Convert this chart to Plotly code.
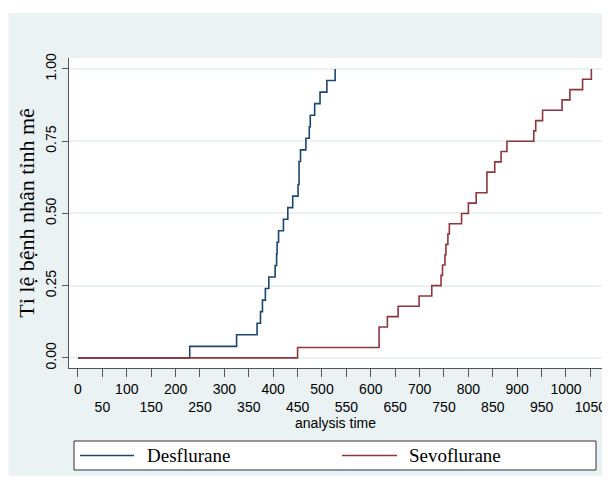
import plotly.graph_objects as go

# ---- data ----
des_time = [0, 229, 325, 367, 374, 378, 384, 391, 404, 407, 408, 411, 421, 430, 440,
            451, 453, 456, 467, 474, 476, 485, 496, 510, 527]
des_fail = [0, 0.04, 0.08, 0.12, 0.16, 0.20, 0.24, 0.28, 0.32, 0.36, 0.40, 0.44, 0.48,
            0.52, 0.56, 0.60, 0.68, 0.72, 0.76, 0.80, 0.84, 0.88, 0.92, 0.96, 1.00]

sev_time = [0, 450, 617, 634, 656, 699, 725, 744, 747, 752, 754, 758, 761, 786, 800,
            816, 838, 854, 867, 879, 934, 938, 952, 992, 1008, 1034, 1052]
sev_fail = [0, 0.0357, 0.1071, 0.1429, 0.1786, 0.2143, 0.25, 0.2857, 0.3214, 0.3571,
            0.3929, 0.4286, 0.4643, 0.5, 0.5357, 0.5714, 0.6429, 0.6786, 0.7143, 0.75,
            0.7857, 0.8214, 0.8571, 0.8929, 0.9286, 0.9643, 1.0]

x_ticks = [0, 50, 100, 150, 200, 250, 300, 350, 400, 450, 500, 550,
           600, 650, 700, 750, 800, 850, 900, 950, 1000, 1050]
y_ticks = [0, 0.25, 0.5, 0.75, 1.0]
y_tick_labels = ["0.00", "0.25", "0.50", "0.75", "1.00"]

series_names = ["Desflurane", "Sevoflurane"]
y_title = "Tỉ lệ bệnh nhân tỉnh mê"
x_title = "analysis time"

# ---- styling ----
PANEL = "#EAF2F3"
NAVY = "#1A476F"
MAROON = "#90353B"
COLORS = [NAVY, MAROON]
SERIF = "Liberation Serif, Times New Roman, serif"
SANS = "Liberation Sans, Arial, sans-serif"

# the page body has an 8px margin, so the figure is offset by 8px in the window
OFF = 8
VW, VH = 610, 480
W, H = VW - OFF, VH - OFF
# plot area in window pixels
P_L, P_R, P_T, P_B = 69, 602, 58, 368
ML, MR, MT, MB = P_L - OFF, VW - P_R, P_T - OFF, VH - P_B
PW, PH = W - ML - MR, H - MT - MB


def px_x(p):
    """window pixel x -> paper fraction"""
    return (p - P_L) / PW


def px_y(p):
    """window pixel y -> paper fraction"""
    return (P_B - p) / PH


x_tick_text = [str(v) if i % 2 == 0 else "<br>" + str(v) for i, v in enumerate(x_ticks)]

fig = go.Figure()
fig.add_trace(go.Scatter(x=des_time, y=des_fail, mode="lines", line_shape="hv",
                         line=dict(color=NAVY, width=1.6), name=series_names[0]))
fig.add_trace(go.Scatter(x=sev_time, y=sev_fail, mode="lines", line_shape="hv",
                         line=dict(color=MAROON, width=1.6), name=series_names[1]))

# legend box drawn in window pixel positions (Stata-like layout)
LEG_L, LEG_R, LEG_T, LEG_B = 74, 596, 441, 470
LEG_MID = (LEG_T + LEG_B) / 2
leg_items = [(80, 134, 145), (342, 397, 407)]  # line start, line end, text start

shapes = [
    dict(type="rect", xref="paper", yref="paper", layer="below",
         x0=px_x(8.5), x1=px_x(615), y0=px_y(476), y1=px_y(13),
         fillcolor=PANEL, line=dict(width=0)),
    dict(type="rect", xref="paper", yref="paper", layer="below",
         x0=0, x1=1, y0=0, y1=1, fillcolor="white", line=dict(width=0)),
    dict(type="rect", xref="paper", yref="paper", layer="above",
         x0=px_x(LEG_L), x1=px_x(LEG_R), y0=px_y(LEG_B), y1=px_y(LEG_T),
         fillcolor="white", line=dict(color="#333333", width=1)),
]
annotations = []
for (l0, l1, t0), name, col in zip(leg_items, series_names, COLORS):
    shapes.append(dict(type="line", xref="paper", yref="paper", layer="above",
                       x0=px_x(l0), x1=px_x(l1), y0=px_y(LEG_MID), y1=px_y(LEG_MID),
                       line=dict(color=col, width=1.6)))
    annotations.append(dict(xref="paper", yref="paper", x=px_x(t0), y=px_y(LEG_MID),
                            xanchor="left", yanchor="middle", showarrow=False,
                            text=name, font=dict(family=SERIF, size=19, color="black")))

fig.update_layout(
    width=W, height=H,
    margin=dict(l=ML, r=MR, t=MT, b=MB, pad=0),
    paper_bgcolor="white",
    plot_bgcolor="white",
    showlegend=False,
    shapes=shapes,
    annotations=annotations,
    xaxis=dict(
        range=[-18.4, 1073.8], automargin=False,
        tickmode="array", tickvals=x_ticks, ticktext=x_tick_text, tickangle=0,
        ticks="outside", ticklen=8, tickwidth=1, tickcolor="#555555",
        showline=True, linecolor="#555555", linewidth=1.2,
        showgrid=False, zeroline=False,
        tickfont=dict(family=SANS, size=14, color="black"),
        title=dict(text=x_title, font=dict(family=SANS, size=14, color="black"), standoff=2),
    ),
    yaxis=dict(
        range=[-0.035, 1.038], automargin=False,
        tickmode="array", tickvals=y_ticks, ticktext=y_tick_labels,
        tickangle=-90,
        ticks="outside", ticklen=6, tickwidth=1, tickcolor="#555555",
        showline=True, linecolor="#555555", linewidth=1.2,
        showgrid=True, gridcolor=PANEL, gridwidth=1.5, zeroline=False,
        tickfont=dict(family=SANS, size=14, color="black"),
        title=dict(text=y_title, font=dict(family=SERIF, size=22, color="black"), standoff=2),
    ),
)

fig.write_html("out.html")
